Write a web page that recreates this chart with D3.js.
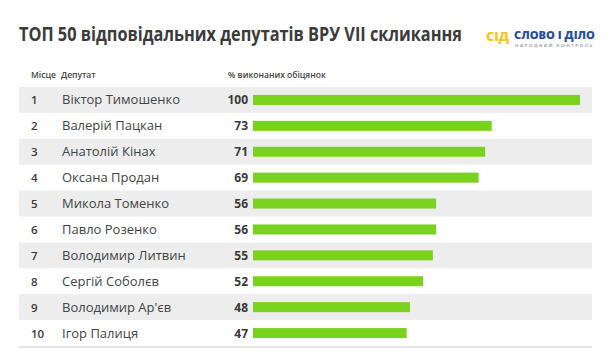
<!DOCTYPE html>
<html><head><meta charset="utf-8">
<script src="https://cdn.jsdelivr.net/npm/d3@7"></script>
<style>
html,body{margin:0;padding:0;background:#fff;}
svg{display:block;font-family:"Open Sans",sans-serif;}
</style></head>
<body><svg id="c" width="610" height="349"></svg>
<script>
const ranks = ["1","2","3","4","5","6","7","8","9","10"];
const names = ["Віктор Тимошенко","Валерій Пацкан","Анатолій Кінах","Оксана Продан","Микола Томенко","Павло Розенко","Володимир Литвин","Сергій Соболєв","Володимир Ар'єв","Ігор Палиця"];
const values = [100,73,71,69,56,56,55,52,48,47];
const headers = ["Місце","Депутат","% виконаних обіцянок"];
const title = "ТОП 50 відповідальних депутатів ВРУ VII скликання";

const svg = d3.select("#c");
const y = d3.scaleBand().domain(ranks).range([87,346]).paddingInner(0);
const x = d3.scaleLinear().domain([0,100]).range([253,580]);

// fit text horizontally to a target width via transform scale
function fitText(g, tx, ty, width, size, weight, fill, str, letter) {
  const t = g.append("text").attr("x",0).attr("y",0).attr("font-size",size)
    .attr("font-weight",weight).attr("fill",fill).text(str);
  if (letter) t.attr("letter-spacing",letter);
  const w = t.node().getComputedTextLength();
  t.attr("transform",`translate(${tx},${ty}) scale(${width/w},1)`);
  return t;
}

// title
fitText(svg, 19, 41, 443, 20, 700, "#3b3b3b", title);

// logo
const logo = svg.append("g");
fitText(logo, 486, 40.5, 23, 12, 800, "#f2c81c", "СІД");
fitText(logo, 514, 38.5, 81, 10, 800, "#2a4f9c", "СЛОВО І ДІЛО");
fitText(logo, 515, 46.5, 79, 4, 600, "#8a8f9a", "НАРОДНИЙ КОНТРОЛЬ", 1.2);

// headers
const hx = [31,61,228];
svg.selectAll("text.h").data(headers).enter().append("text").attr("class","h")
  .attr("x",(d,i)=>hx[i]).attr("y",78).attr("font-size",8.5).attr("font-weight",600)
  .attr("fill","#444").text(d=>d);

// stripes
svg.selectAll("rect.band").data(ranks.filter((d,i)=>i%2===0)).enter().append("rect")
  .attr("x",19).attr("width",573).attr("y",d=>y(d)).attr("height",y.bandwidth()).attr("fill","#ededed");
svg.append("line").attr("x1",19).attr("x2",592).attr("y1",347).attr("y2",347).attr("stroke","#e3e3e3").attr("stroke-width",2);

const rows = svg.selectAll("g.row").data(ranks).enter().append("g").attr("class","row");
rows.append("text").attr("x",31).attr("y",d=>y(d)+y.bandwidth()/2+4.5)
  .attr("font-size",11.5).attr("font-weight",600).attr("fill","#3a3a3a").text(d=>d);
rows.append("text").attr("x",62).attr("y",d=>y(d)+y.bandwidth()/2+4.5)
  .attr("font-size",13).attr("fill","#444").text((d,i)=>names[i]);
rows.append("text").attr("x",248).attr("y",d=>y(d)+y.bandwidth()/2+4.5).attr("text-anchor","end")
  .attr("font-size",12).attr("font-weight",700).attr("fill","#3a3a3a").text((d,i)=>values[i]);
rows.append("rect").attr("x",x(0)).attr("y",d=>y(d)+y.bandwidth()/2-5).attr("height",10)
  .attr("width",(d,i)=>x(values[i])-x(0)).attr("fill","#78d21e");
</script></body></html>
